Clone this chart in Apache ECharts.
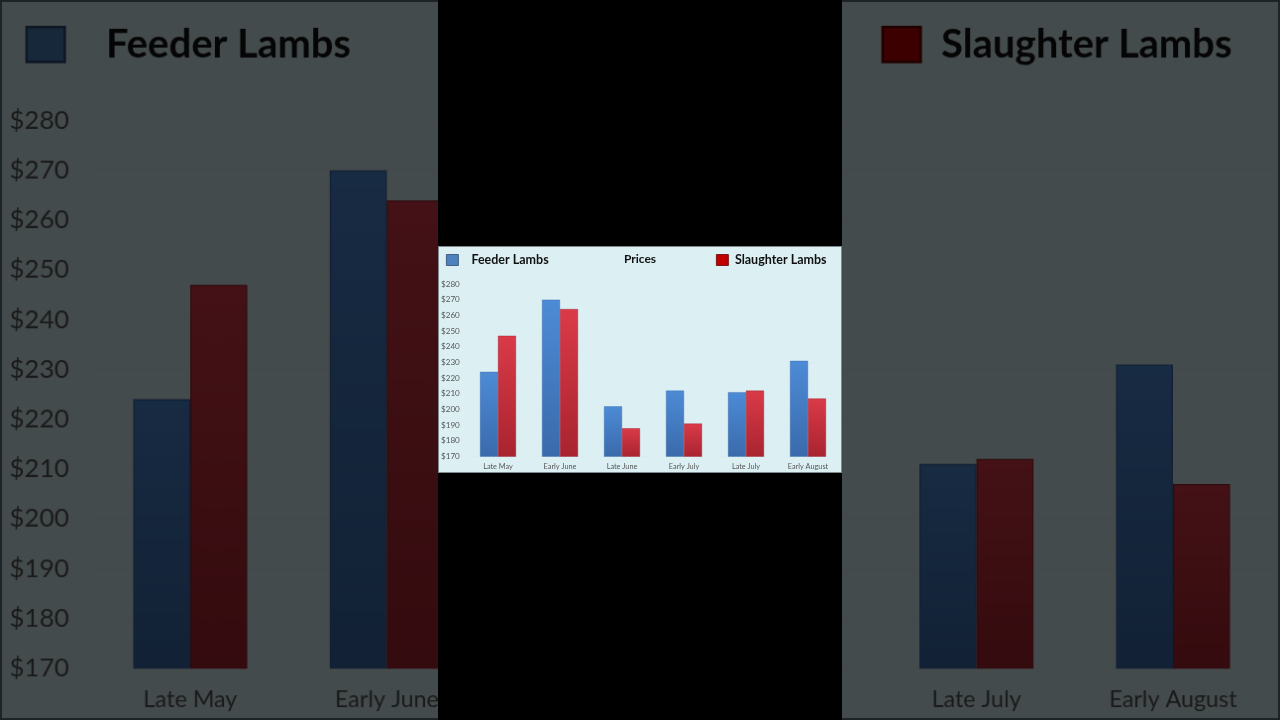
<!DOCTYPE html>
<html>
<head>
<meta charset="utf-8">
<script src="https://cdn.jsdelivr.net/npm/echarts@6/dist/echarts.min.js"></script>
<style>
  html, body { margin: 0; padding: 0; background: #000; width: 1280px; height: 720px; overflow: hidden; }
  #bg { position: absolute; left: 0; top: 0; width: 404px; height: 227px; transform-origin: 0 0; transform: scale(3.1683, 3.1718); }
  #shade { position: absolute; left: 0; top: 0; width: 1280px; height: 720px; background: rgba(0,0,0,0.69); }
  #band { position: absolute; left: 438px; top: 0; width: 404px; height: 720px; background: #000; }
  #fg { position: absolute; left: 438px; top: 246px; width: 404px; height: 227px; }
  .frame { position: absolute; box-sizing: border-box; border: 1px solid rgba(60,70,75,0.6); pointer-events: none; }
</style>
</head>
<body>
<div id="bg"></div>
<div id="shade"></div>
<div class="frame" style="left:0;top:0;width:1280px;height:720px;border-color:rgba(20,25,30,0.8);border-width:2px"></div>
<div id="band"></div>
<div id="fg"></div>
<div class="frame" style="left:438px;top:246px;width:404px;height:227px"></div>
<script>
const categories = ['Late May', 'Early June', 'Late June', 'Early July', 'Late July', 'Early August'];
const feederLambs = [224, 270, 202, 212, 211, 231];
const slaughterLambs = [247, 264, 188, 191, 212, 207];
const yMin = 170, yMax = 280, yStep = 10;
const titleText = 'Prices';
const seriesNames = ['Feeder Lambs', 'Slaughter Lambs'];

const FONT = 'Lato, "Open Sans", sans-serif';

function grad(top, bottom) {
  return new echarts.graphic.LinearGradient(0, 0, 0, 1, [
    { offset: 0, color: top }, { offset: 1, color: bottom }
  ]);
}

function makeOption() {
  return {
    backgroundColor: '#dcf0f4',
    animation: false,
    title: {
      text: titleText, left: 'center', top: 2,
      textStyle: { fontFamily: FONT, fontSize: 12, fontWeight: 'bold', color: '#111' }
    },
    legend: [
      {
        left: 3, top: 2.5, itemWidth: 12, itemHeight: 11, icon: 'rect',
        data: [{ name: seriesNames[0], itemStyle: { color: '#4f81bd', borderColor: '#2c4d75', borderWidth: 0.8 } }],
        textStyle: { fontFamily: FONT, fontSize: 12.5, fontWeight: 'bold', color: '#111', padding: [0, 0, 0, 8] }
      },
      {
        left: 273, top: 2.5, itemWidth: 12, itemHeight: 11, icon: 'rect',
        data: [{ name: seriesNames[1], itemStyle: { color: '#c00000', borderColor: '#6a0000', borderWidth: 0.8 } }],
        textStyle: { fontFamily: FONT, fontSize: 12.5, fontWeight: 'bold', color: '#111', padding: [0, 0, 0, 1.5] }
      }
    ],
    grid: { left: 29, right: 3, top: 38, bottom: 16.5 },
    xAxis: {
      type: 'category', data: categories,
      axisLine: { show: false }, axisTick: { show: false },
      axisLabel: { fontFamily: FONT, fontSize: 7.3, color: '#555', margin: 6.6 }
    },
    yAxis: {
      type: 'value', min: yMin, max: yMax, interval: yStep,
      axisLine: { show: false }, axisTick: { show: false },
      splitLine: { show: true, lineStyle: { color: '#d8edf1', width: 0.5 } },
      axisLabel: {
        fontFamily: FONT, fontSize: 8.1, color: '#555', align: 'left', margin: 26,
        formatter: v => '$' + v
      }
    },
    series: [
      {
        name: seriesNames[0], type: 'bar', data: feederLambs,
        barGap: '0%', barCategoryGap: '42%',
        itemStyle: { color: grad('#4d8bd6', '#3a6aab'), borderColor: '#3a6aa8', borderWidth: 0.4 }
      },
      {
        name: seriesNames[1], type: 'bar', data: slaughterLambs,
        barGap: '0%', barCategoryGap: '42%',
        itemStyle: { color: grad('#da3a48', '#a8242f'), borderColor: '#9a2230', borderWidth: 0.4 }
      }
    ]
  };
}

const bgChart = echarts.init(document.getElementById('bg'), null, { renderer: 'canvas', devicePixelRatio: 3.2 });
bgChart.setOption(makeOption());
const fgChart = echarts.init(document.getElementById('fg'), null, { renderer: 'canvas' });
fgChart.setOption(makeOption());
</script>
</body>
</html>
